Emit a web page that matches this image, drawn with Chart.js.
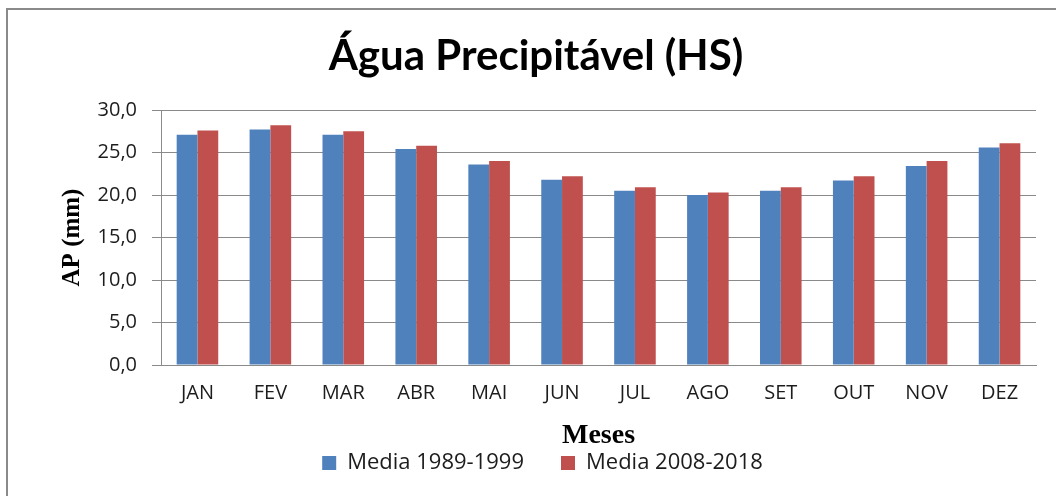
<!DOCTYPE html>
<html>
<head>
<meta charset="utf-8">
<title>Água Precipitável (HS)</title>
<script src="https://cdn.jsdelivr.net/npm/chart.js@4.4.0/dist/chart.umd.min.js"></script>
<style>
    html, body { margin: 0; padding: 0; background: #fff; overflow: hidden; }
    #wrap { position: relative; width: 1056px; height: 496px; overflow: hidden; }
    #frame {
        position: absolute; left: 6px; top: 8px; right: -10px; bottom: -10px;
        border: 2px solid #8a8a8a;
    }
    #apChart { position: absolute; left: 0; top: 0; }
</style>
</head>
<body>
<div id="wrap">
    <div id="frame"></div>
    <canvas id="apChart" width="1056" height="496"></canvas>
</div>
<script>
const chartTitle = 'Água Precipitável (HS)';
const months = ['JAN', 'FEV', 'MAR', 'ABR', 'MAI', 'JUN', 'JUL', 'AGO', 'SET', 'OUT', 'NOV', 'DEZ'];
const seriesNames = ['Media 1989-1999', 'Media 2008-2018'];
const media1989 = [27.1, 27.7, 27.1, 25.4, 23.6, 21.8, 20.5, 20.0, 20.5, 21.7, 23.4, 25.6];
const media2008 = [27.6, 28.2, 27.5, 25.8, 24.0, 22.2, 20.9, 20.3, 20.9, 22.2, 24.0, 26.1];
const yMin = 0, yMax = 30, yStep = 5;

const gridGray = '#8a8a8a';
const textColor = '#1c1c1c';

// title drawn by hand so it can sit a bit right of the canvas centre, like the original
const titlePlugin = {
    id: 'chartTitle',
    afterDraw(chart) {
        const ctx = chart.ctx;
        ctx.save();
        ctx.font = 'bold 42px Lato';
        ctx.fillStyle = '#000';
        ctx.textAlign = 'center';
        ctx.textBaseline = 'alphabetic';
        ctx.fillText(chartTitle, 536, 70);
        ctx.restore();
    }
};

new Chart(document.getElementById('apChart'), {
    type: 'bar',
    data: {
        labels: months,
        datasets: [{
            label: seriesNames[0],
            data: media1989,
            backgroundColor: '#4f81bd'
        }, {
            label: seriesNames[1],
            data: media2008,
            backgroundColor: '#c0504d'
        }]
    },
    options: {
        responsive: false,
        animation: false,
        layout: {
            padding: { top: 110, left: 49, right: 20, bottom: 12 }
        },
        datasets: {
            bar: {
                categoryPercentage: 0.57,
                barPercentage: 1.0
            }
        },
        scales: {
            x: {
                grid: { display: false, drawTicks: false },
                border: { display: true, color: gridGray, width: 1 },
                ticks: {
                    color: textColor,
                    padding: 16,
                    font: { family: 'Open Sans', size: 20 }
                },
                title: {
                    display: true,
                    text: 'Meses',
                    color: '#000',
                    font: { family: 'Liberation Serif', size: 28, weight: 'bold' },
                    padding: { top: 0, bottom: -38 }
                },
                afterFit(scale) {
                    scale.height = 50;
                }
            },
            y: {
                min: yMin,
                max: yMax,
                grid: { color: gridGray, lineWidth: 1, drawTicks: true, tickLength: 9 },
                border: { display: true, color: gridGray, width: 1 },
                ticks: {
                    stepSize: yStep,
                    color: textColor,
                    padding: 15,
                    font: { family: 'Open Sans', size: 20 },
                    callback: function (value) {
                        return value.toFixed(1).replace('.', ',');
                    }
                },
                title: {
                    display: true,
                    text: 'AP (mm)',
                    color: '#000',
                    font: { family: 'Liberation Serif', size: 25, weight: 'bold' },
                    padding: { top: 9, bottom: 0 }
                },
                afterFit(scale) {
                    scale.width = 112;
                }
            }
        },
        plugins: {
            title: { display: false },
            tooltip: { enabled: false },
            legend: {
                position: 'bottom',
                labels: {
                    boxWidth: 14,
                    boxHeight: 14,
                    padding: 37,
                    color: textColor,
                    font: { family: 'Open Sans', size: 22 }
                }
            }
        }
    },
    plugins: [titlePlugin]
});
</script>
</body>
</html>
